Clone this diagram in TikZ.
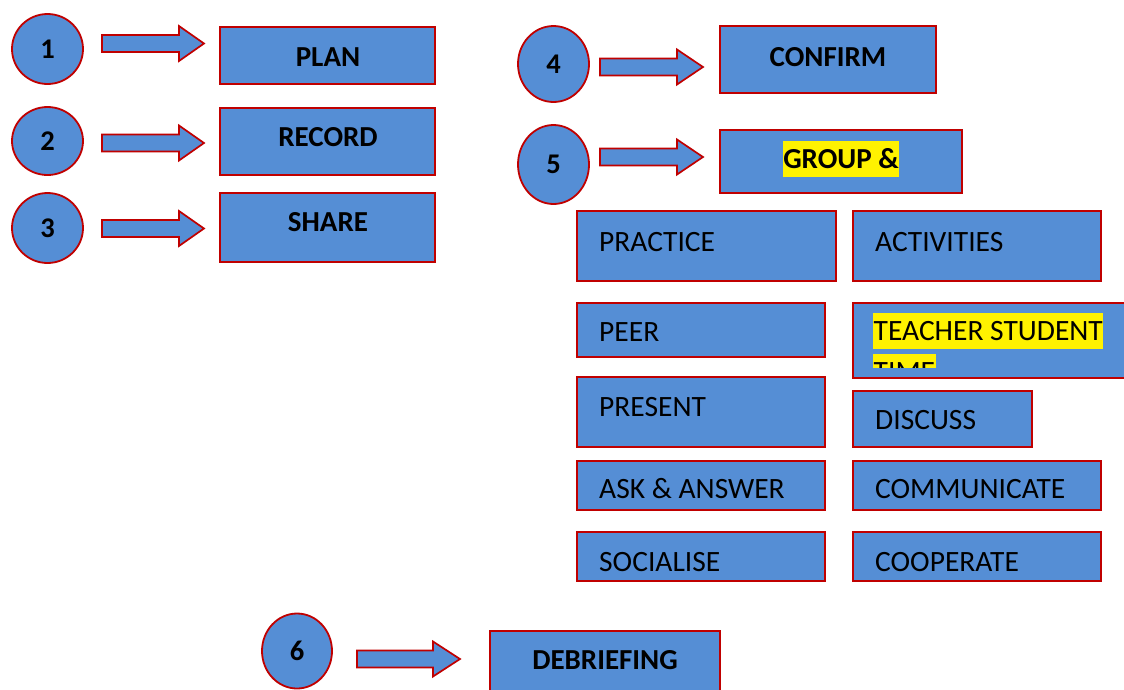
\documentclass[tikz,border=0pt]{standalone}
\usepackage{fontspec}
\setmainfont{Carlito}
\usetikzlibrary{shapes.geometric}
\definecolor{boxblue}{RGB}{85,142,213}
\definecolor{boxred}{RGB}{192,0,0}
\newcommand\blkarrow[4]{\draw[shp,line width=1.7pt] (#1,#4-8.5) -- (#2,#4-8.5) -- (#2,#4-17.5) -- (#3,#4) -- (#2,#4+17.5) -- (#2,#4+8.5) -- (#1,#4+8.5) -- cycle;}
\begin{document}
\begin{tikzpicture}[x=1pt,y=-1pt,
  shp/.style={fill=boxblue,draw=boxred,line width=1.8pt},
  num/.style={shp,ellipse,inner sep=0pt,font=\fontsize{28.5}{33}\selectfont\bfseries},
  bbox/.style={shp,rectangle,inner sep=0pt},
  btxt/.style={font=\fontsize{29}{35}\selectfont\bfseries,inner sep=0pt},
  ptxt/.style={font=\fontsize{29.5}{35}\selectfont,inner sep=0pt,anchor=base west},
  hl/.style={fill=yellow,text height=27pt,text depth=9pt,inner xsep=0.5pt,inner ysep=0pt}
]
\useasboundingbox (0,0) rectangle (1124,689);
\clip (0,0) rectangle (1124,689);

% circles
\node[num,minimum width=71pt,minimum height=70pt] (c1) at (47.5,49) {1};
\node[num,minimum width=71pt,minimum height=68pt] (c2) at (47.5,141) {2};
\node[num,minimum width=71pt,minimum height=70pt] (c3) at (47.5,228) {3};
\node[num,minimum width=71pt,minimum height=76pt] (c4) at (553.5,64) {4};
\node[num,minimum width=71pt,minimum height=79pt] (c5) at (553.5,164.5) {5};
\node[num,minimum width=70pt,minimum height=75pt] (c6) at (297,651) {6};

% block arrows
\blkarrow{102}{179}{204}{43.5}
\blkarrow{102}{179}{204}{143}
\blkarrow{102}{179}{204}{228.5}
\blkarrow{600}{677}{703}{67}
\blkarrow{600}{677}{703}{157}
\blkarrow{357}{433}{460}{659}

% bold boxes
\node[bbox,minimum width=215pt,minimum height=57pt] (plan) at (327.5,55.5) {};
\node[btxt] (planT) at (328,57) {PLAN};
\node[bbox,minimum width=215pt,minimum height=67pt] (record) at (327.5,141.5) {};
\node[btxt] (recordT) at (328,137) {RECORD};
\node[bbox,minimum width=215pt,minimum height=69pt] (share) at (327.5,227.5) {};
\node[btxt] (shareT) at (328,222) {SHARE};
\node[bbox,minimum width=216pt,minimum height=67pt] (confirm) at (828,59.5) {};
\node[btxt] (confirmT) at (828,57) {CONFIRM};
\node[bbox,minimum width=242pt,minimum height=63pt] (group) at (841,161.5) {};
\node[btxt,hl,anchor=base] (groupT) at (841,168) {GROUP \&};
\node[bbox,minimum width=230pt,minimum height=69pt] (debrief) at (605,665.5) {};
\node[btxt] (debriefT) at (605,660) {DEBRIEFING};

% plain boxes
\node[bbox,minimum width=259pt,minimum height=70pt] (practice) at (706.5,246) {};
\node[ptxt] (practiceT) at (599,251) {PRACTICE};
\node[bbox,minimum width=248pt,minimum height=70pt] (activities) at (977,246) {};
\node[ptxt] (activitiesT) at (875,251) {ACTIVITIES};
\node[bbox,minimum width=248pt,minimum height=54pt] (peer) at (701,330) {};
\node[ptxt] (peerT) at (599,341) {PEER};
\node[bbox,minimum width=287pt,minimum height=75pt] (teacher) at (996.5,340.5) {};
\begin{scope}
\clip (853,303) rectangle (1124,367);
\node[ptxt,hl] (teacherT) at (873,340) {TEACHER STUDENT};
\node[ptxt,hl] (timeT) at (873,381) {TIME};
\end{scope}
\node[bbox,minimum width=248pt,minimum height=70pt] (present) at (701,412) {};
\node[ptxt] (presentT) at (599,416) {PRESENT};
\node[bbox,minimum width=179pt,minimum height=56pt] (discuss) at (942.5,419) {};
\node[ptxt] (discussT) at (875,429) {DISCUSS};
\node[bbox,minimum width=248pt,minimum height=49pt] (ask) at (701,485.5) {};
\node[ptxt] (askT) at (599,498) {ASK \& ANSWER};
\node[bbox,minimum width=248pt,minimum height=49pt] (comm) at (977,485.5) {};
\node[ptxt] (commT) at (875,498) {COMMUNICATE};
\node[bbox,minimum width=248pt,minimum height=49pt] (social) at (701,556.5) {};
\node[ptxt] (socialT) at (599,571) {SOCIALISE};
\node[bbox,minimum width=248pt,minimum height=49pt] (coop) at (977,556.5) {};
\node[ptxt] (coopT) at (875,571) {COOPERATE};
\end{tikzpicture}
\end{document}
